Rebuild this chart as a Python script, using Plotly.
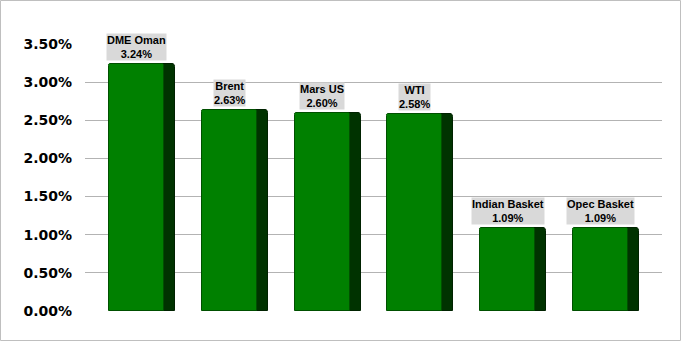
import plotly.graph_objects as go

categories = ["DME Oman", "Brent", "Mars US", "WTI", "Indian Basket", "Opec Basket"]
values = [3.24, 2.63, 2.60, 2.58, 1.09, 1.09]
tick_vals = [0, 0.5, 1.0, 1.5, 2.0, 2.5, 3.0, 3.5]
tick_text = [f"{t:.2f}%" for t in tick_vals]

W, H = 681, 341
ml, mr, mt, mb = 85, 19, 44, 30
pw, ph = W - ml - mr, H - mt - mb

x = list(range(len(categories)))
front_off, front_w = -0.356, 0.593
side_off, side_w = 0.20, 0.156

fig = go.Figure()
fig.add_trace(go.Bar(
    x=x, y=values, offset=side_off, width=side_w,
    marker=dict(color="#003300", line=dict(color="#002200", width=1), cornerradius=3),
    hoverinfo="skip", showlegend=False))
fig.add_trace(go.Bar(
    x=x, y=values, offset=front_off, width=front_w,
    marker=dict(color="#008000", line=dict(color="#005000", width=1), cornerradius=2),
    showlegend=False, name="",
    customdata=categories, hovertemplate="%{customdata}: %{y:.2f}%"))

for i, (c, v) in enumerate(zip(categories, values)):
    fig.add_annotation(
        x=i + front_off + front_w / 2, y=v, xref="x", yref="y",
        text=f"<b>{c}<br>{v:.2f}%</b>", showarrow=False,
        yanchor="bottom", yshift=3, bgcolor="#D9D9D9", borderpad=0,
        font=dict(family="Liberation Sans, Arial", size=11, color="#000000"))

# figure border
fig.add_shape(type="rect", xref="paper", yref="paper",
              x0=(0.5 - ml) / pw, x1=(W - 0.5 - ml) / pw,
              y0=((H - mb) - (H - 0.5)) / ph, y1=((H - mb) - 0.5) / ph,
              line=dict(color="#BFBFBF", width=1), layer="below")

fig.update_layout(
    width=W, height=H,
    margin=dict(l=ml, r=mr, t=mt, b=mb),
    paper_bgcolor="white", plot_bgcolor="white",
    barmode="overlay", bargap=0,
    xaxis=dict(range=[-0.614, 5.603], showticklabels=False, showgrid=False,
               zeroline=False, showline=False, fixedrange=True),
    yaxis=dict(range=[0, 3.5], tickvals=tick_vals, ticktext=tick_text,
               showgrid=True, gridcolor="#B3B3B3", gridwidth=1,
               zeroline=False, showline=False, ticklabelstandoff=12,
               tickfont=dict(family="DejaVu Sans", size=14, color="#000000", weight="bold")),
    font=dict(family="Liberation Sans, Arial"),
)

fig.write_html("out.html")
